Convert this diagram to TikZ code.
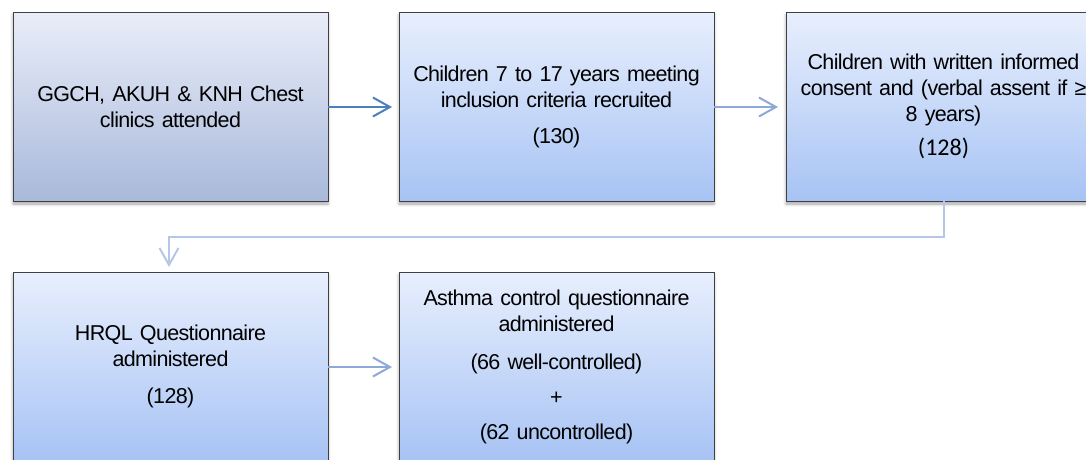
\documentclass[tikz,border=0pt]{standalone}
\usepackage{fontspec}
\setmainfont{Liberation Sans}[LetterSpace=-3]
\newfontfamily\calib{Carlito}
\usetikzlibrary{arrows.meta,shadows.blur}
\definecolor{boxa}{HTML}{E9EDF8}
\definecolor{boxb}{HTML}{A9B9DB}
\definecolor{boxc}{HTML}{E8EFFD}
\definecolor{boxd}{HTML}{A7C3F4}
\definecolor{edge}{HTML}{404040}
\definecolor{arrA}{HTML}{4F7FBB}
\definecolor{arrB}{HTML}{8EA9D6}
\definecolor{arrC}{HTML}{B6C7E5}
\tikzset{
  stepbox/.style={draw=edge, line width=0.8pt, minimum width=315pt, minimum height=189pt,
    text width=305pt, align=center, inner sep=0pt,
    font=\fontsize{21.5}{26}\selectfont,
    execute at begin node={\fontdimen2\font=0.2em\relax},
    top color=boxc, bottom color=boxd,
    blur shadow={shadow xshift=0pt, shadow yshift=-3pt, shadow blur radius=3pt, shadow opacity=35}},
  greybox/.style={stepbox, top color=boxa, bottom color=boxb},
  flow/.style={line width=2pt, -{Straight Barb[length=17pt,width=19pt,line width=2pt]}},
}
\begin{document}
\begin{tikzpicture}[x=1pt,y=-1pt]
\useasboundingbox (0,0) rectangle (1086,459);
\clip (0,0) rectangle (1086,459);
\node[greybox] (b1) at (170.5,106.5) {GGCH, AKUH \& KNH Chest\\clinics attended};
\node[stepbox] (b2) at (556.5,106.5) {Children 7 to 17 years meeting\\inclusion criteria recruited\\[10pt](130)};
\node[stepbox] (b3) at (943.5,106.5) {Children with written informed\\consent and (verbal assent if ≥\\8 years)\\[8pt]{\calib\fontsize{24}{26}\selectfont (128)}};
\node[stepbox] (b4) at (170.5,366.5) {HRQL Questionnaire\\administered\\[11pt](128)};
\node[stepbox] (b5) at (556.5,366.5) {Asthma control questionnaire\\administered\\[12pt](66 well-controlled)\\[9pt]+\\[9pt](62 uncontrolled)};
\coordinate (t1) at (392,107);
\coordinate (t2) at (778,107);
\coordinate (t4) at (392,367);
\coordinate (t3) at (169,267);
\draw[flow, arrA] (b1.east |- t1) -- (t1);
\draw[flow, arrB] (b2.east |- t2) -- (t2);
\draw[flow, arrB] (b4.east |- t4) -- (t4);
\draw[flow, arrC] (b3.south) -- ++(0,36) -| (t3);
\end{tikzpicture}
\end{document}
